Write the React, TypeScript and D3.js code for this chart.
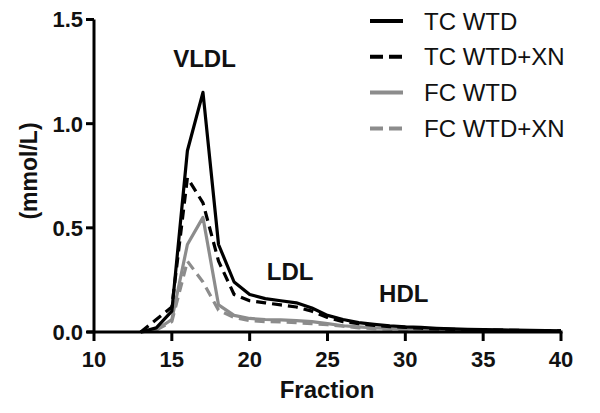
import React from "react";
import * as d3 from "d3";

const fractions = [13,14,15,16,17,18,19,20,21,22,23,24,25,26,27,28,29,30,31,32,33,34,35,36,37,38,39,40];
const tcWTD = [0,0.02,0.1,0.87,1.15,0.42,0.24,0.18,0.16,0.15,0.14,0.115,0.08,0.06,0.045,0.037,0.03,0.025,0.022,0.018,0.015,0.013,0.011,0.01,0.009,0.008,0.007,0.006];
const tcWTDXN = [0,0.06,0.12,0.74,0.62,0.34,0.18,0.15,0.14,0.13,0.12,0.1,0.07,0.05,0.04,0.032,0.026,0.022,0.018,0.015,0.013,0.011,0.01,0.009,0.008,0.007,0.006,0.005];
const fcWTD = [0,0.01,0.06,0.42,0.55,0.13,0.08,0.065,0.06,0.058,0.055,0.05,0.04,0.03,0.025,0.02,0.017,0.015,0.013,0.012,0.011,0.01,0.009,0.008,0.007,0.006,0.006,0.005];
const fcWTDXN = [0,0.01,0.05,0.34,0.24,0.105,0.07,0.055,0.05,0.048,0.045,0.04,0.035,0.028,0.02,0.016,0.014,0.012,0.011,0.01,0.009,0.008,0.007,0.006,0.006,0.005,0.005,0.004];

const xTicks = [10,15,20,25,30,35,40];
const yTicks = [0,0.5,1,1.5];
const seriesNames = ["TC WTD","TC WTD+XN","FC WTD","FC WTD+XN"];
const annotations = [
  { label: "VLDL", x: 17.1, y: 1.27 },
  { label: "LDL", x: 22.6, y: 0.25 },
  { label: "HDL", x: 29.9, y: 0.145 },
];

const FONT = "'Liberation Sans', Arial, Helvetica, sans-serif";

export default function App() {
  const x = d3.scaleLinear().domain([10, 40]).range([94, 561]);
  const y = d3.scaleLinear().domain([0, 1.5]).range([332, 19.5]);
  const line = d3.line<number>().x((_, i) => x(fractions[i])).y((d) => y(d));

  const series = [
    { name: seriesNames[0], data: tcWTD, color: "#000", dash: undefined },
    { name: seriesNames[1], data: tcWTDXN, color: "#000", dash: "10,6" },
    { name: seriesNames[2], data: fcWTD, color: "#8c8c8c", dash: undefined },
    { name: seriesNames[3], data: fcWTDXN, color: "#8c8c8c", dash: "10,6" },
  ];
  const drawOrder = [2, 3, 1, 0];

  return (
    <svg width={600} height={413} style={{ position: "absolute", left: 0, top: 0, background: "#fff" }}>
      <rect width={600} height={413} fill="#fff" />
      {drawOrder.map((i) => {
        const s = series[i];
        return (
          <path key={s.name} d={line(s.data) || ""} fill="none" stroke={s.color} strokeWidth={3.2}
            strokeDasharray={s.dash} strokeLinejoin="round" />
        );
      })}
      {/* axes */}
      <line x1={x(10)} x2={x(10)} y1={y(1.5)} y2={y(0)} stroke="#000" strokeWidth={3} />
      <line x1={x(10) - 7} x2={x(40) + 1.5} y1={y(0)} y2={y(0)} stroke="#000" strokeWidth={3} />
      {yTicks.map((t) => (
        <g key={t}>
          <line x1={x(10) - 8} x2={x(10)} y1={y(t)} y2={y(t)} stroke="#000" strokeWidth={3} />
          <text x={83} y={y(t)} dy="0.36em" textAnchor="end" fontFamily={FONT} fontWeight="bold" fontSize={22} fill="#111">
            {t.toFixed(1)}
          </text>
        </g>
      ))}
      {xTicks.map((t) => (
        <g key={t}>
          <line x1={x(t)} x2={x(t)} y1={y(0)} y2={y(0) + 9} stroke="#000" strokeWidth={3} />
          <text x={x(t)} y={367} textAnchor="middle" fontFamily={FONT} fontWeight="bold" fontSize={22} fill="#111">
            {t}
          </text>
        </g>
      ))}
      <text x={327} y={398} textAnchor="middle" fontFamily={FONT} fontWeight="bold" fontSize={24} fill="#111">Fraction</text>
      <text transform="translate(37,171) rotate(-90)" textAnchor="middle" fontFamily={FONT} fontWeight="bold" fontSize={23} fill="#111">(mmol/L)</text>
      {annotations.map((a) => (
        <text key={a.label} x={x(a.x)} y={y(a.y)} textAnchor="middle" fontFamily={FONT} fontWeight="bold" fontSize={24} fill="#111">
          {a.label}
        </text>
      ))}
      {/* legend */}
      {series.map((s, i) => {
        const ly = 21 + i * 35.8;
        return (
          <g key={s.name}>
            <line x1={370} x2={403} y1={ly} y2={ly} stroke={s.color} strokeWidth={4}
              strokeDasharray={s.dash ? "13,6" : undefined} />
            <text x={424} y={ly} dy="0.36em" fontFamily={FONT} fontSize={24} fill="#111">{s.name}</text>
          </g>
        );
      })}
    </svg>
  );
}
